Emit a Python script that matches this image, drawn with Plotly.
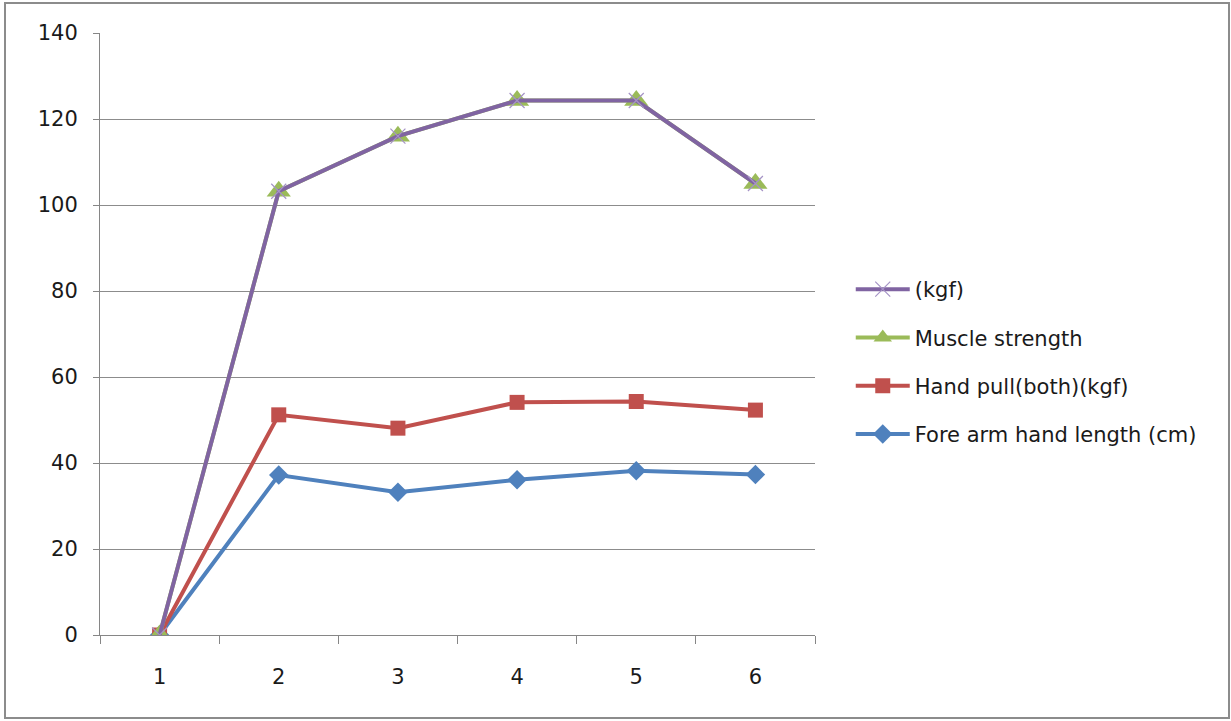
import plotly.graph_objects as go

# Category labels along the x axis
categories = [1, 2, 3, 4, 5, 6]

# Series values (drawn bottom-up so purple ends on top)
fore_arm = [0, 37.2, 33.2, 36.1, 38.2, 37.3]
hand_pull = [0, 51.2, 48.1, 54.1, 54.3, 52.3]
muscle_strength = [0, 103.2, 116.0, 124.3, 124.3, 105.0]
kgf = [0, 103.2, 116.0, 124.3, 124.3, 105.0]

y_ticks = [0, 20, 40, 60, 80, 100, 120, 140]

FONT = "'DejaVu Sans', sans-serif"

series = [
    ("Fore arm hand length (cm)", fore_arm, "#4F81BD", dict(symbol="diamond", size=15)),
    ("Hand pull(both)(kgf)", hand_pull, "#C0504D", dict(symbol="square", size=15)),
    ("Muscle strength", muscle_strength, "#9BBB59", dict(symbol="triangle-up", size=21)),
    ("(kgf)", kgf, "#8064A2", dict(symbol="x-thin", size=15, line=dict(width=1.2, color="#A593C6"))),
]

fig = go.Figure()
n = len(series)
for i, (name, vals, color, marker) in enumerate(series):
    m = dict(color=color, **marker)
    fig.add_trace(go.Scatter(
        x=categories, y=vals, name=name, mode="lines+markers",
        line=dict(color=color, width=4),
        marker=m, legendgroup=f"g{i}", legendrank=n - i,
    ))

# Outer chart frame
fig.add_shape(type="rect", xref="paper", yref="paper",
              x0=(5 - 100) / 715, x1=(1229 - 100) / 715,
              y0=(635 - 718) / 602, y1=(635 - 3) / 602,
              line=dict(color="#8C8C8C", width=2), layer="below")

fig.update_layout(
    width=1231, height=721,
    margin=dict(l=100, r=416, t=33, b=86),
    paper_bgcolor="white", plot_bgcolor="white",
    font=dict(family=FONT, size=21, color="#1a1a1a"),
    showlegend=True,
    legend=dict(
        x=1.05, xanchor="left", y=0.4535, yanchor="middle",
        traceorder="grouped", tracegroupgap=18,
        font=dict(size=21), itemwidth=54,
        bgcolor="rgba(0,0,0,0)",
    ),
    xaxis=dict(
        range=[0.5, 6.5], tickmode="array", tickvals=categories,
        ticktext=[str(c) for c in categories], ticks="",
        showgrid=False, zeroline=False,
        showline=True, linecolor="#868686", linewidth=1,
        ticklabelstandoff=23,
        minor=dict(tickvals=[0.5, 1.5, 2.5, 3.5, 4.5, 5.5, 6.5], ticks="outside",
                   ticklen=8, tickcolor="#868686", showgrid=False),
    ),
    yaxis=dict(
        range=[0, 140], tickmode="array", tickvals=y_ticks,
        showgrid=True, gridcolor="#8C8C8C", gridwidth=1,
        zeroline=False, showline=True, linecolor="#868686", linewidth=1,
        ticks="outside", ticklen=6, tickcolor="#868686",
        ticklabelstandoff=11,
    ),
)

fig.write_html("out.html")
